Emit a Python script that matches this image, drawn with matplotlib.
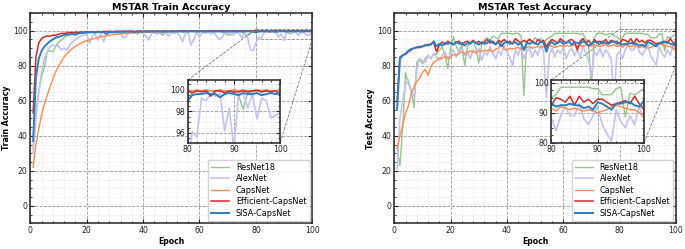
import numpy as np
import matplotlib.pyplot as plt
from matplotlib.ticker import AutoMinorLocator
from mpl_toolkits.axes_grid1.inset_locator import mark_inset

epochs = np.arange(1, 101)
models = ['ResNet18', 'AlexNet', 'CapsNet', 'Efficient-CapsNet', 'SISA-CapsNet']
colors = ['#94c58a', '#c2c2ee', '#ff8a50', '#d62728', '#2b7fc0']
widths = [1.0, 1.2, 1.0, 1.1, 1.4]

# train accuracy (%)
train_resnet = [33, 52, 65, 74, 79, 88, 88.5, 88, 91, 93.5, 94.5, 96, 97, 97.5, 98, 98.5, 98.7, 98.9, 99.1, 99.0,
                99.2, 99.3, 99.2, 99.4, 99.3, 99.5, 99.4, 99.5, 99.6, 99.5, 99.6, 99.6, 99.5, 99.7, 99.6, 99.7, 99.6, 99.7, 99.7, 99.6,
                99.7, 99.7, 99.6, 99.8, 99.7, 98.5, 97.5, 98.8, 99.5, 99.7, 99.8, 99.7, 99.8, 99.8, 99.7, 99.8, 99.8, 99.9, 99.8, 99.8,
                99.9, 99.8, 99.8, 99.9, 99.8, 99.8, 99.9, 99.7, 98.5, 97.5, 97.6, 99.3, 99.8, 99.8, 99.2, 98.3, 97.3, 98.5, 99.4, 98.8,
                99.8, 99.9, 99.9, 99.8, 99.9, 99.8, 99.9, 99.8, 99.9, 99.7, 99.5, 98.2, 99.7, 99.8, 99.9, 99.8, 99.9, 99.8, 99.9, 99.8]
train_alexnet = [30, 50, 65, 76, 84, 88, 91, 92, 91, 91.5, 89, 90, 89, 92, 93.5, 95, 96, 97, 97.5, 98,
                 92.8, 97, 98, 94.5, 98.5, 93.7, 98, 98.5, 99, 98, 99, 98.5, 96, 96.5, 99, 98.5, 99, 98, 99.3, 98.5,
                 97, 94.7, 98.5, 99, 98, 99.3, 98.5, 99, 97, 99, 98.5, 99.2, 97, 93.7, 98.5, 99, 91.8, 95, 99, 96.6,
                 99, 98.5, 99.3, 98, 99.2, 97, 95, 96, 99, 98.5, 99.2, 97.5, 99, 98.5, 96, 98.5, 96.5, 89.5, 88.5, 93,
                 96.1, 95.6, 99.2, 99.0, 99.6, 99.4, 99.7, 96.2, 98.3, 94.5, 99.6, 99.7, 98.3, 99.6, 97.3, 99.2, 99.0, 97.4, 97.6, 97.9]
train_capsnet = [22, 35, 44, 52, 58, 63, 68, 72.5, 76.5, 79.5, 82.5, 85, 87, 88.5, 90, 91, 92, 93, 93.7, 94.3,
                 94.8, 95.3, 95.7, 96.1, 96.5, 96.8, 97.1, 97.4, 97.6, 97.8, 98.0, 98.2, 98.3, 98.5, 98.6, 98.7, 98.8, 98.9, 99.0, 99.1,
                 99.1, 99.2, 99.3, 99.3, 99.4, 99.4, 99.5, 99.5, 99.5, 99.6, 99.6, 99.6, 99.7, 99.7, 99.7, 99.7, 99.8, 99.8, 99.8, 99.8,
                 99.8, 99.8, 99.9, 99.8, 99.9, 99.9, 99.8, 99.9, 99.9, 99.9, 99.9, 99.8, 99.9, 99.9, 99.9, 99.9, 99.9, 99.9, 99.9, 99.9,
                 99.9, 100, 99.9, 100, 99.9, 99.9, 100, 99.9, 99.9, 100, 99.9, 100, 99.9, 99.9, 100, 99.9, 100, 99.9, 99.9, 100]
train_effcaps = [53, 85, 93, 95.5, 96.5, 97, 96.8, 97.5, 97.3, 98, 98.5, 98.3, 98.7, 99, 98.8, 99.2, 99.0, 99.3, 99.1, 99.4,
                 99.3, 99.5, 99.2, 99.6, 99.4, 99.6, 99.5, 99.7, 99.4, 99.6, 99.7, 99.5, 99.8, 99.6, 99.7, 99.8, 99.5, 99.7, 99.8, 99.6,
                 99.8, 99.7, 99.9, 99.6, 99.8, 99.7, 99.9, 99.8, 99.6, 99.9, 99.8, 99.7, 99.9, 99.8, 99.9, 99.7, 99.9, 99.8, 99.9, 99.8,
                 99.9, 99.7, 99.9, 99.8, 99.9, 99.9, 99.7, 99.9, 99.8, 99.9, 99.8, 99.9, 99.9, 99.7, 99.9, 99.8, 99.9, 99.9, 99.8, 99.9,
                 99.7, 99.9, 99.8, 99.9, 99.4, 99.9, 99.9, 99.7, 99.9, 99.8, 99.8, 99.9, 99.8, 99.9, 99.95, 99.8, 99.9, 99.8, 99.9, 99.5]
train_sisa = [37, 73, 84, 88.5, 91, 92.5, 94, 95, 96, 96.5, 97, 97.5, 97.8, 98, 98.3, 97.6, 98.5, 98.7, 98.8, 98.9,
              99.0, 99.1, 98.9, 99.2, 99.2, 99.1, 98.2, 99.3, 99.2, 99.4, 99.3, 99.4, 99.3, 99.5, 99.4, 99.5, 99.3, 99.5, 99.4, 99.5,
              99.5, 99.4, 99.6, 99.5, 99.5, 99.6, 99.4, 99.6, 99.5, 99.6, 99.5, 99.6, 99.6, 99.4, 99.6, 99.5, 99.6, 99.6, 99.5, 99.6,
              99.6, 99.5, 99.6, 99.6, 99.5, 99.6, 99.6, 99.4, 99.6, 99.5, 99.6, 99.6, 99.5, 99.6, 99.6, 99.5, 99.6, 99.6, 99.5, 99.0,
              99.5, 99.6, 99.6, 99.7, 99.6, 99.6, 99.3, 99.6, 99.7, 99.6, 99.5, 99.7, 99.6, 99.6, 99.7, 99.5, 99.6, 99.7, 99.6, 99.7]

# test accuracy (%)
test_resnet = [33, 23, 45, 76, 70, 66, 56, 82, 84, 81, 84, 86, 84, 87, 86.5, 89, 90.5, 86, 78.5, 90,
               96.5, 91, 88, 92, 80, 91, 93, 94, 90, 81.5, 92, 95, 96, 94.5, 97, 96, 95.5, 98.5, 98.5, 98.5,
               98.5, 98, 98.5, 98.5, 97, 63, 94, 95.5, 93, 96, 94.5, 95.5, 93, 95, 96, 97, 98.5, 98.5, 98.5, 98.5,
               98.5, 98.5, 98.5, 98.5, 98.5, 98, 98.5, 95, 91, 68, 96, 98.5, 98.5, 98.5, 97.5, 98, 98.5, 97, 96.5, 95,
               96, 98.5, 98.5, 98.5, 98.5, 98.5, 98.5, 98.5, 98, 98, 96, 96, 96, 98, 98.5, 88.5, 96.5, 96, 97, 98]
test_alexnet = [21, 50, 60, 69, 72, 65, 62, 78, 84, 83, 82, 86, 84, 87, 85, 83, 86, 88, 84, 87,
                89, 85, 88, 90, 86, 88, 84, 89, 87, 90, 83, 88, 86, 91, 87, 84, 89, 86, 92, 88,
                85, 80, 89, 86, 91, 84, 88, 90, 85, 89, 86, 92, 88, 62, 86, 90, 85, 89, 87, 91,
                84, 88, 90, 86, 89, 85, 91, 87, 83, 74, 88, 86, 90, 85, 89, 87, 84, 60, 86, 88,
                84, 89, 92, 89, 89, 93, 88, 86, 89, 92, 86, 83, 80.5, 91, 87, 85, 89, 86, 92, 88]
test_capsnet = [33, 40, 46, 53, 57, 64, 68, 71, 73, 76, 78, 74.5, 79.5, 82, 83, 84.5, 84, 85.5, 84, 85,
                86.5, 86, 87, 88, 87, 87.5, 88.5, 88, 87.5, 88.5, 88, 89, 88.5, 89, 88, 89.5, 90, 93, 89.5, 89,
                90, 89.5, 90, 90.5, 89.5, 90, 90.5, 91, 90, 90.5, 91, 90.5, 91, 90.5, 91.5, 91, 90.5, 91, 91.5, 91,
                91.5, 91, 91.5, 92, 91, 91.5, 91, 92, 91.5, 91, 92, 91.5, 91, 91.5, 92, 91, 91.5, 92, 91, 91.5,
                90.5, 92, 91.5, 91, 91.5, 91, 90.5, 91, 90.5, 90, 90.5, 91, 92, 92.5, 92, 91.5, 91, 91, 90, 88.5]
test_effcaps = [60, 85, 86, 86.5, 88, 89, 90, 90.5, 91, 91, 92, 91.5, 92.5, 93, 88, 92, 93.5, 92, 94, 93,
                92.5, 93.5, 94, 92, 93.5, 94, 93, 94.5, 93, 94, 92.5, 93.5, 95, 93, 94, 92, 94.5, 93.5, 95, 93,
                94, 92.5, 95.5, 94, 93, 94.5, 93.5, 95, 94, 92.5, 95, 93.5, 94.5, 91, 93.5, 95, 94, 93, 95.5, 94,
                93, 94.5, 95, 93.5, 89, 94, 95.5, 93, 94.5, 92, 95, 93.5, 94, 92.5, 95, 93, 94.5, 93.5, 94, 92.5,
                95, 94.5, 93.5, 95.5, 92.5, 95.5, 93.5, 94.5, 93, 94.5, 94.5, 93.5, 92.5, 93, 93.5, 94, 93, 95.5, 93, 91]
test_sisa = [55, 84, 86, 87, 88.5, 89.5, 90, 90.5, 90.5, 91, 91.5, 92, 92, 94, 91, 92.5, 91.5, 93, 92.5, 93,
             92, 93.5, 92.5, 93, 91.5, 93, 92.5, 94, 93, 92, 93.5, 92.5, 93, 94.5, 93, 92.5, 93.5, 91, 93, 94,
             92.5, 93, 93.5, 92, 93, 89, 93, 92.5, 93.5, 93, 92, 94, 93, 88, 92.5, 93.5, 92, 93, 94, 92.5,
             93, 94, 92, 93.5, 93, 92.5, 94, 93, 91.5, 92.5, 94, 93, 92.5, 94, 93, 92.5, 93.5, 94, 92.5, 93,
             92, 92.5, 92.5, 93, 92.5, 92.5, 91.5, 92, 91, 93.5, 93, 92, 91, 93, 93, 93.5, 93.5, 92.5, 92, 94]

train = [train_resnet, train_alexnet, train_capsnet, train_effcaps, train_sisa]
test = [test_resnet, test_alexnet, test_capsnet, test_effcaps, test_sisa]


def style_axes(ax, fs):
    ax.xaxis.set_minor_locator(AutoMinorLocator(5))
    ax.yaxis.set_minor_locator(AutoMinorLocator(4))
    ax.tick_params(which='both', direction='in', top=True, right=True, labelsize=fs,
                   colors='#222222', pad=2)
    ax.tick_params(which='major', length=3, width=0.8)
    ax.tick_params(which='minor', length=1.5, width=0.6)
    ax.grid(which='major', ls='--', lw=0.6, color='#999999')
    ax.grid(which='minor', ls=':', lw=0.4, color='#cccccc')
    for s in ax.spines.values():
        s.set_linewidth(1.2)
        s.set_color('#333333')


fig = plt.figure(figsize=(6.85, 2.49), dpi=100)
positions = [[0.0442, 0.103, 0.4117, 0.844], [0.5756, 0.103, 0.4112, 0.844]]
titles = ['MSTAR Train Accuracy', 'MSTAR Test Accuracy']
ylabels = ['Train Accuracy', 'Test Accuracy']
inset_ylims = [(95.1, 100.9), (80.1, 100.9)]
inset_yticks = [[96, 98, 100], [80, 90, 100]]

for k, data in enumerate([train, test]):
    ax = fig.add_axes(positions[k])
    for j in range(5):
        ax.plot(epochs, data[j], color=colors[j], lw=widths[j], label=models[j])
    ax.set_xlim(0, 100)
    ax.set_ylim(-10, 110)
    ax.set_xticks([0, 20, 40, 60, 80, 100])
    ax.set_yticks([0, 20, 40, 60, 80, 100])
    style_axes(ax, 5.6)
    ax.set_title(titles[k], fontsize=6.8, fontweight='bold', pad=2)
    ax.set_xlabel('Epoch', fontsize=5.6, fontweight='bold', labelpad=1)
    ax.set_ylabel(ylabels[k], fontsize=5.6, fontweight='bold', labelpad=1)
    ax.legend(loc='lower right', fontsize=5.9, labelspacing=0.3, handlelength=2.2,
              borderaxespad=0.3, framealpha=0.85, edgecolor='#cccccc', fancybox=False)

    axins = ax.inset_axes([0.558, 0.384, 0.328, 0.298])
    for j in range(5):
        axins.plot(epochs, data[j], color=colors[j], lw=widths[j])
    axins.set_xlim(80, 100)
    axins.set_ylim(*inset_ylims[k])
    axins.set_xticks([80, 90, 100])
    axins.set_yticks(inset_yticks[k])
    style_axes(axins, 5.6)
    axins.set_facecolor('white')
    mark_inset(ax, axins, loc1=2, loc2=4, fc='none', ec='#777777', ls='--', lw=0.6)

fig.savefig('out.png', dpi=100)
